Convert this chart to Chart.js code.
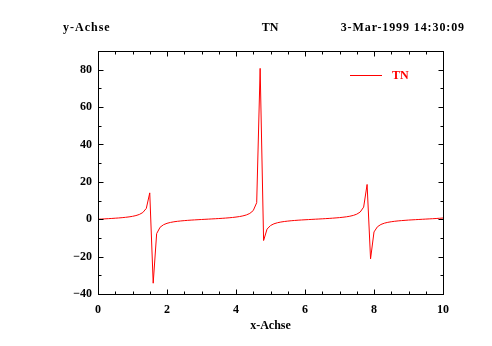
<!DOCTYPE html>
<html>
<head>
<meta charset="utf-8">
<script src="https://cdn.jsdelivr.net/npm/chart.js@4/dist/chart.umd.min.js"></script>
<style>
html,body{margin:0;padding:0;background:#fff;}
canvas{display:block;}
</style>
</head>
<body>
<canvas id="c" width="492" height="346"></canvas>
<script>
// ---- data ----
const xValues = [0.0,0.1,0.2,0.3,0.4,0.5,0.6,0.7,0.8,0.9,
  1.0,1.1,1.2,1.3,1.4,1.5,1.6,1.7,1.8,1.9,
  2.0,2.1,2.2,2.3,2.4,2.5,2.6,2.7,2.8,2.9,
  3.0,3.1,3.2,3.3,3.4,3.5,3.6,3.7,3.8,3.9,
  4.0,4.1,4.2,4.3,4.4,4.5,4.6,4.7,4.8,4.9,
  5.0,5.1,5.2,5.3,5.4,5.5,5.6,5.7,5.8,5.9,
  6.0,6.1,6.2,6.3,6.4,6.5,6.6,6.7,6.8,6.9,
  7.0,7.1,7.2,7.3,7.4,7.5,7.6,7.7,7.8,7.9,
  8.0,8.1,8.2,8.3,8.4,8.5,8.6,8.7,8.8,8.9,
  9.0,9.1,9.2,9.3,9.4,9.5,9.6,9.7,9.8,9.9,10.0];
const tnValues = [0.00,0.10,0.20,0.31,0.42,0.55,0.68,0.84,1.03,1.26,
  1.56,1.96,2.57,3.60,5.80,14.10,-34.23,-7.70,-4.29,-2.93,
  -2.19,-1.71,-1.37,-1.12,-0.92,-0.75,-0.60,-0.47,-0.36,-0.25,
  -0.14,-0.04,0.06,0.16,0.26,0.37,0.49,0.62,0.77,0.95,
  1.16,1.42,1.78,2.29,3.10,4.64,8.86,80.71,-11.39,-5.27,
  -3.38,-2.45,-1.89,-1.50,-1.22,-1.00,-0.81,-0.66,-0.52,-0.40,
  -0.29,-0.19,-0.08,0.02,0.12,0.22,0.33,0.44,0.57,0.71,
  0.87,1.06,1.30,1.61,2.04,2.71,3.85,6.48,18.60,-21.20,
  -6.80,-4.03,-2.81,-2.11,-1.66,-1.34,-1.09,-0.89,-0.73,-0.59,
  -0.45,-0.34,-0.23,-0.13,-0.02,0.08,0.18,0.28,0.39,0.52,0.65];
const seriesLabel = 'TN';
const xTickValues = [0,2,4,6,8,10];
const xMinorTickValues = [0.5,1,1.5,2.5,3,3.5,4.5,5,5.5,6.5,7,7.5,8.5,9,9.5];
const yTickValues = [-40,-20,0,20,40,60,80];
const yMinorTickValues = [-30,-10,10,30,50,70,90];
const headerLeft = 'y-Achse';
const headerCenter = 'TN';
const headerRight = '3-Mar-1999 14:30:09';
const xTitle = 'x-Achse';

const FONT_FAMILY = '"Liberation Serif", "DejaVu Serif", serif';

const frame = {
  id: 'frame',
  afterDraw(chart) {
    const {ctx, chartArea: a, scales} = chart;
    const xs = scales.x, ys = scales.y;
    ctx.save();
    ctx.strokeStyle = '#000';
    ctx.lineWidth = 1;
    ctx.strokeRect(Math.round(a.left) + 0.5, Math.round(a.top) + 0.5,
                   Math.round(a.right - a.left), Math.round(a.bottom - a.top));
    const L = Math.round(a.left) + 0.5, R = Math.round(a.right) + 0.5;
    const T = Math.round(a.top) + 0.5, B = Math.round(a.bottom) + 0.5;
    ctx.beginPath();
    const xt = (vals, len) => vals.forEach(v => {
      const px = Math.round(xs.getPixelForValue(v)) + 0.5;
      ctx.moveTo(px, B); ctx.lineTo(px, B - len);
      ctx.moveTo(px, T); ctx.lineTo(px, T + len);
    });
    const yt = (vals, len) => vals.forEach(v => {
      const py = Math.round(ys.getPixelForValue(v)) + 0.5;
      ctx.moveTo(L, py); ctx.lineTo(L + len, py);
      ctx.moveTo(R, py); ctx.lineTo(R - len, py);
    });
    xt(xTickValues, 5); xt(xMinorTickValues, 3);
    yt(yTickValues, 5); yt(yMinorTickValues, 3);
    ctx.stroke();

    // header texts
    ctx.fillStyle = '#000';
    ctx.font = 'bold 12px ' + FONT_FAMILY;
    ctx.textBaseline = 'alphabetic';
    ctx.letterSpacing = '1px';
    ctx.textAlign = 'left';
    ctx.fillText(headerLeft, 63, 31);
    ctx.letterSpacing = '0px';
    ctx.textAlign = 'center';
    ctx.fillText(headerCenter, 270, 31);
    ctx.letterSpacing = '0.9px';
    ctx.textAlign = 'right';
    ctx.fillText(headerRight, 465, 31);
    ctx.letterSpacing = '0px';

    // legend
    const ds = chart.data.datasets[0];
    ctx.strokeStyle = ds.borderColor;
    ctx.beginPath();
    ctx.moveTo(350, 75.5); ctx.lineTo(382, 75.5);
    ctx.stroke();
    ctx.fillStyle = ds.borderColor;
    ctx.textAlign = 'left';
    ctx.textBaseline = 'middle';
    ctx.fillText(ds.label, 392, 76);
    ctx.restore();
  }
};

new Chart(document.getElementById('c'), {
  type: 'line',
  data: {
    datasets: [{
      label: seriesLabel,
      data: xValues.map((x, i) => ({x: x, y: tnValues[i]})),
      borderColor: '#ff0000',
      borderWidth: 1,
      pointRadius: 0,
      tension: 0,
      fill: false
    }]
  },
  options: {
    responsive: false,
    animation: false,
    layout: {padding: {left: 0, right: 49, top: 51, bottom: 0}},
    plugins: {legend: {display: false}, tooltip: {enabled: false}, title: {display: false}},
    scales: {
      x: {
        type: 'linear', min: 0, max: 10,
        grid: {display: false, drawTicks: false},
        border: {display: false},
        afterBuildTicks: s => { s.ticks = xTickValues.map(v => ({value: v})); },
        afterFit: s => { s.height = 52; },
        ticks: {
          color: '#000', padding: 9, maxRotation: 0, autoSkip: false,
          font: {family: FONT_FAMILY, size: 12, weight: 'bold'}
        },
        title: {
          display: true, text: xTitle, color: '#000',
          padding: {top: 0, bottom: 13},
          font: {family: FONT_FAMILY, size: 12, weight: 'bold'}
        }
      },
      y: {
        type: 'linear', min: -40, max: 90,
        grid: {display: false, drawTicks: false},
        border: {display: false},
        afterBuildTicks: s => { s.ticks = yTickValues.map(v => ({value: v})); },
        afterFit: s => { s.width = 98; },
        ticks: {
          color: '#000', padding: 6, autoSkip: false,
          font: {family: FONT_FAMILY, size: 12, weight: 'bold'},
          callback: v => String(v).replace('-', '\u2212')
        }
      }
    }
  },
  plugins: [frame]
});
</script>
</body>
</html>
